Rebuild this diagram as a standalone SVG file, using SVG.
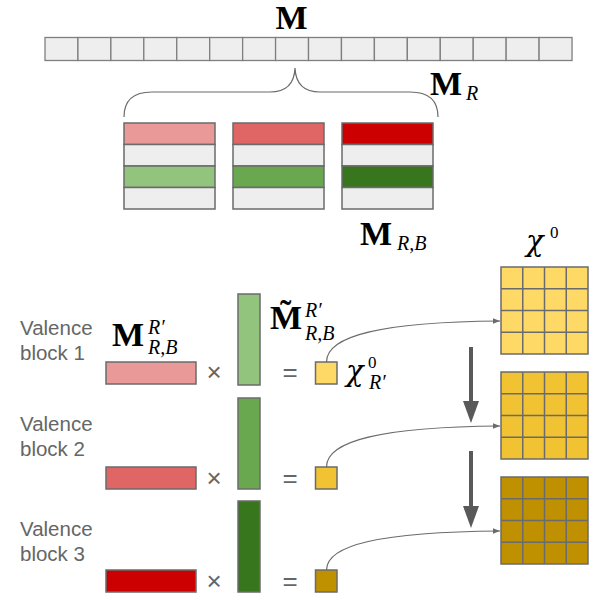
<svg xmlns="http://www.w3.org/2000/svg" width="598" height="613" viewBox="0 0 598 613">
<defs>
<style>
.cell{fill:#eeeeee;stroke:#7f7f7f;stroke-width:1.3}
.box{stroke:#6b6b6b;stroke-width:1.5}
.r1{fill:#ea9999}.r2{fill:#e06666}.r3{fill:#cc0000}
.g1{fill:#93c47d}.g2{fill:#6aa84f}.g3{fill:#38761d}
.y1{fill:#ffd966}.y2{fill:#f1c232}.y3{fill:#bf9000}
.gr{fill:#eeeeee}
.bm{font-family:"Liberation Serif","DejaVu Serif",serif;font-weight:bold;font-size:34px;fill:#000}
.sub{font-family:"Liberation Serif","DejaVu Serif",serif;font-style:italic;font-size:20px;fill:#000}
.chi{font-family:"DejaVu Serif","Liberation Serif",serif;font-style:italic;font-size:29px;fill:#000}
.zero{font-family:"Liberation Serif","DejaVu Serif",serif;font-size:17px;fill:#000}
.lbl{font-family:"Liberation Sans",Arial,sans-serif;font-size:20.5px;fill:#666666}
.op{font-family:"Liberation Sans",Arial,sans-serif;font-size:26px;fill:#666666}
.conn{fill:none;stroke:#6b6b6b;stroke-width:1.2}
.grid{stroke:#6b6b6b;stroke-width:1.5}
</style>
<marker id="ah" viewBox="0 0 10 10" refX="10" refY="5" markerWidth="7" markerHeight="7" markerUnits="userSpaceOnUse" orient="auto">
<path d="M0,1 L10,5 L0,9 Z" fill="#6b6b6b"/>
</marker>
</defs>
<rect width="598" height="613" fill="#ffffff"/>

<g id="M-top">
<text class="bm" x="291.5" y="29" text-anchor="middle">M</text>
<g id="bar">
<rect class="cell" x="45" y="37.5" width="32.94" height="23"/>
<rect class="cell" x="77.94" y="37.5" width="32.94" height="23"/>
<rect class="cell" x="110.88" y="37.5" width="32.94" height="23"/>
<rect class="cell" x="143.82" y="37.5" width="32.94" height="23"/>
<rect class="cell" x="176.76" y="37.5" width="32.94" height="23"/>
<rect class="cell" x="209.7" y="37.5" width="32.94" height="23"/>
<rect class="cell" x="242.64" y="37.5" width="32.94" height="23"/>
<rect class="cell" x="275.58" y="37.5" width="32.94" height="23"/>
<rect class="cell" x="308.52" y="37.5" width="32.94" height="23"/>
<rect class="cell" x="341.46" y="37.5" width="32.94" height="23"/>
<rect class="cell" x="374.4" y="37.5" width="32.94" height="23"/>
<rect class="cell" x="407.34" y="37.5" width="32.94" height="23"/>
<rect class="cell" x="440.28" y="37.5" width="32.94" height="23"/>
<rect class="cell" x="473.22" y="37.5" width="32.94" height="23"/>
<rect class="cell" x="506.16" y="37.5" width="32.94" height="23"/>
<rect class="cell" x="539.1" y="37.5" width="32.94" height="23"/>
</g>
</g>

<g id="brace">
<path class="conn" d="M124,117 Q124,92 152,92 L270,92 Q294,92 295,68 Q296,92 320,92 L410,92 Q438,92 438,117"/>
<text class="bm" x="430" y="95">M</text>
<text class="sub" x="466" y="100">R</text>
</g>

<g id="MRB-blocks">
<g id="block-a">
<rect class="box r1" x="124" y="123" width="91" height="21.5"/>
<rect class="box gr" x="124" y="144.5" width="91" height="21.5"/>
<rect class="box g1" x="124" y="166" width="91" height="21.5"/>
<rect class="box gr" x="124" y="187.5" width="91" height="21.5"/>
</g>
<g id="block-b">
<rect class="box r2" x="233" y="123" width="91" height="21.5"/>
<rect class="box gr" x="233" y="144.5" width="91" height="21.5"/>
<rect class="box g2" x="233" y="166" width="91" height="21.5"/>
<rect class="box gr" x="233" y="187.5" width="91" height="21.5"/>
</g>
<g id="block-c">
<rect class="box r3" x="342" y="123" width="91" height="21.5"/>
<rect class="box gr" x="342" y="144.5" width="91" height="21.5"/>
<rect class="box g3" x="342" y="166" width="91" height="21.5"/>
<rect class="box gr" x="342" y="187.5" width="91" height="21.5"/>
</g>
<text class="bm" x="360" y="245">M</text>
<text class="sub" x="397" y="250">R,B</text>
</g>

<g id="chi0-label">
<text class="chi" x="526" y="251">χ</text>
<text class="zero" x="550" y="238">0</text>
</g>

<g id="row1">
<text class="lbl" x="20" y="335">Valence</text>
<text class="lbl" x="20" y="360">block 1</text>
<text class="bm" x="112" y="346">M</text>
<text class="sub" x="148" y="334">R′</text>
<text class="sub" x="148" y="354">R,B</text>
<rect class="box r1" x="106" y="362" width="90" height="22"/>
<text class="op" x="214" y="381" text-anchor="middle">×</text>
<rect class="box g1" x="238" y="294" width="22" height="91"/>
<text class="bm" x="270" y="329">M&#x303;</text>
<text class="sub" x="305" y="317">R′</text>
<text class="sub" x="305" y="340">R,B</text>
<text class="op" x="290" y="381" text-anchor="middle">=</text>
<rect class="box y1" x="315.5" y="362" width="21.5" height="22"/>
<text class="chi" x="346" y="381" font-size="27">χ</text>
<text class="zero" x="368" y="368">0</text>
<text class="sub" x="369" y="389" font-size="19">R′</text>
</g>

<g id="row2">
<text class="lbl" x="20" y="431">Valence</text>
<text class="lbl" x="20" y="456">block 2</text>
<rect class="box r2" x="106" y="467" width="90" height="22"/>
<text class="op" x="214" y="487" text-anchor="middle">×</text>
<rect class="box g2" x="238" y="398" width="22" height="91"/>
<text class="op" x="290" y="487" text-anchor="middle">=</text>
<rect class="box y2" x="315.5" y="467" width="21.5" height="22"/>
</g>

<g id="row3">
<text class="lbl" x="20" y="536">Valence</text>
<text class="lbl" x="20" y="561">block 3</text>
<rect class="box r3" x="106" y="570" width="90" height="22"/>
<text class="op" x="214" y="590" text-anchor="middle">×</text>
<rect class="box g3" x="238" y="501" width="22" height="91"/>
<text class="op" x="290" y="590" text-anchor="middle">=</text>
<rect class="box y3" x="315.5" y="570" width="21.5" height="22"/>
</g>

<g id="grid1">
<rect class="grid y1" x="501" y="267" width="87" height="87"/>
<path class="grid" fill="none" d="M522.75,267V354M544.5,267V354M566.25,267V354M501,288.75H588M501,310.5H588M501,332.25H588"/>
</g>
<g id="grid2">
<rect class="grid y2" x="501" y="372" width="87" height="87"/>
<path class="grid" fill="none" d="M522.75,372V459M544.5,372V459M566.25,372V459M501,393.75H588M501,415.5H588M501,437.25H588"/>
</g>
<g id="grid3">
<rect class="grid y3" x="501" y="477" width="87" height="87"/>
<path class="grid" fill="none" d="M522.75,477V564M544.5,477V564M566.25,477V564M501,498.75H588M501,520.5H588M501,542.25H588"/>
</g>

<g id="connectors">
<path class="conn" marker-end="url(#ah)" d="M326.5,362 C326.5,336 380,322 500,321"/>
<path class="conn" marker-end="url(#ah)" d="M326.5,467 C326.5,441 380,427 500,426"/>
<path class="conn" marker-end="url(#ah)" d="M326.5,570 C326.5,545 380,532 500,531"/>
<g fill="#595959" stroke="none">
<rect x="469" y="347" width="4" height="56"/>
<path d="M463,401 L479,401 L471,423 Z"/>
<rect x="469" y="451" width="4" height="57"/>
<path d="M463,506 L479,506 L471,528 Z"/>
</g>
</g>
</svg>
